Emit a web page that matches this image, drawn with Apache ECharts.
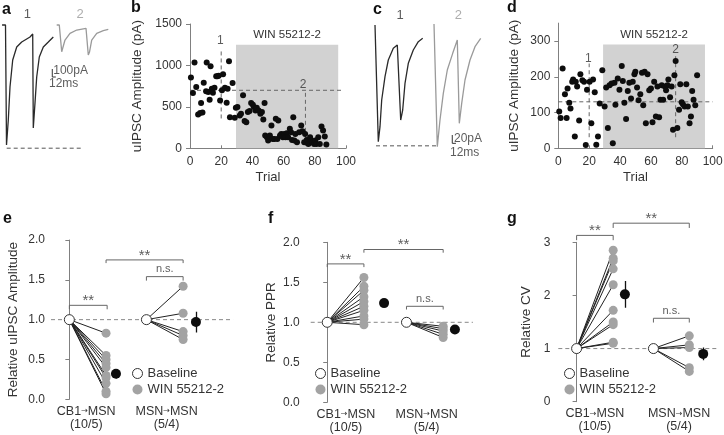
<!DOCTYPE html>
<html><head><meta charset="utf-8">
<script src="https://cdn.jsdelivr.net/npm/echarts@6/dist/echarts.min.js"></script>
<style>html,body{margin:0;padding:0;background:#fff}#c{width:724px;height:435px}</style>
</head><body><div id="c"></div>
<script>
// ---------- DATA ----------
// panel a traces (time ms, current pA)
const traceA1 = [[-10,0],[1.7,0],[5.1,-1500],[8.5,-1475],[11.2,-1188],[17,-775],[26.2,-438],[39.8,-275],[56.8,-213],[85,-150],[94.2,-113],[96.2,-1288],[102,-975],[107.8,-650],[116.6,-400],[130.2,-275],[147.2,-213],[164.2,-150]];
const traceA2 = [[175.8,0],[184.6,0],[192.8,-334],[197.2,-313],[204,-188],[221,-104],[243.8,-63],[275.4,-41],[279.8,-41],[283.2,-375],[287.3,-338],[294.8,-188],[311.8,-104],[334.2,-71],[351.2,-54]];
const peakA = -1540;
// panel c traces
const traceC1 = [[0,0],[3.3,0],[5.6,-4],[10.9,-280],[16.5,-244],[22.1,-180],[33,-124],[43.9,-84],[60.4,-56],[73.6,-48],[80.2,-52],[84.8,-228],[91.4,-204],[99,-140],[109.9,-92],[126.4,-60],[142.9,-40],[157.4,-32]];
const traceC2 = [[194.7,2.4],[201.3,2.4],[205.6,-292],[214.5,-228],[225.4,-164],[238.6,-108],[256.4,-68],[271.6,-36],[274.9,-34],[278.2,-236],[286.1,-188],[297,-132],[313.5,-84],[330,-52],[348.8,-32]];
const peakC = -290;
// panel b
const trialsB = [0.6,1.9,2.9,4,5.2,6.5,7.1,8,8.8,10.3,10.7,11.7,12.6,13.2,14,14.7,15.7,16.8,17.6,18.4,19.3,20.5,21.2,22.4,23.5,24.1,25,25.6,27.3,28.7,29.4,30.4,31.9,32.7,34,35,36.1,37.1,38.2,39.2,40.3,40.9,42,42.8,44,45.1,46.1,47,47.8,48.2,49.3,50.1,51.2,52.2,53,54.1,55,56,56.6,57.7,58.5,59.5,60.4,61.2,62,62.9,64,64.8,65.4,66.2,66.9,67.5,68.6,70,71.3,72.1,73.2,73.8,74.8,75.9,77,77.6,78.6,79.5,80.3,81,82.2,83.2,84.3,85.3,86.4,87.4];
const ampB = [853,667,1035,740,408,425,546,433,792,687,1035,679,586,991,720,671,732,869,869,877,578,700,894,732,550,720,1051,376,789,368,489,497,396,417,639,328,315,437,449,546,526,497,457,489,457,417,437,348,546,154,133,93,154,275,113,113,356,113,336,154,174,133,174,133,182,133,235,194,101,376,93,174,73,194,275,206,73,174,101,53,133,93,73,53,93,53,133,53,263,214,142,45];
const drugB = [29.5, 95, 1250];   // drug window start, end, shading height
const refB = {trial1: 20, trial2: 74, level: 700};
// panel d
const trialsD = [0.6,1.5,2.8,4.3,5.4,6,7.1,7.9,9,9.6,10.7,11.3,12.2,13.5,14.3,15.6,16.7,17.8,18.6,20.3,21.4,22.5,23.6,24.6,25.7,26.8,28.5,30,31,32.1,33.2,34.5,35.3,36.4,37,38.5,39.6,41.1,41.8,42.8,43.9,45,46,47.1,48.2,49.3,49.9,51,52,53.1,54.2,55,55.9,56.7,57.8,58.9,60,61,62.1,63.2,64.2,65.3,66.2,67,67.9,69,69.8,70.7,71.3,72.4,73.4,74.3,75.2,76,77.1,78.2,79,79.9,80.7,81.8,82.9,83.9,85,85.9,86.7,87.6,88.7,89.9];
const ampD = [103,85,223,151,85,167,127,111,186,192,33,186,173,78,207,190,186,9,164,186,70,192,157,10,33,125,218,117,170,57,176,181,14,183,122,195,164,230,188,127,82,160,183,139,186,207,214,170,134,151,211,120,214,70,207,162,167,73,186,89,173,87,136,176,136,173,162,176,192,143,173,52,204,244,57,108,179,129,123,117,179,117,70,89,160,136,120,204];
const drugD = [29, 95, 290];
const refD = {trial1: 20, trial2: 76, level: 130};
// panels e, f, g
const groups = ['CB1→MSN\n(10/5)', 'MSN→MSN\n(5/4)'];
const ampWinCB1 = [0.83,0.55,0.50,0.45,0.40,0.30,0.27,0.20,0.10,0.07];
const ampWinMSN = [1.42,1.08,0.85,0.80,0.75];
const ampMean = [0.32, 0.97], ampSem = [0.06, 0.13];
const pprWinCB1 = [1.56,1.45,1.40,1.32,1.26,1.20,1.15,1.08,1.04,0.97];
const pprWinMSN = [0.95,0.92,0.89,0.85,0.81];
const pprMean = [1.24, 0.91], pprSem = [0.03, 0.03];
const cvWinCB1 = [2.85,2.70,2.65,2.50,2.20,1.72,1.50,1.45,1.12,1.10];
const cvWinMSN = [1.24,1.07,1.02,0.64,0.57];
const cvMean = [2.02, 0.90], cvSem = [0.25, 0.12];

// ---------- STYLE ----------
const FONT = 'Liberation Sans, Arial, Helvetica, sans-serif';
const AX = '#808080', TX = '#333', DOT_GRAY = '#a3a3a3', SHADE = '#d2d2d2';

const chart = echarts.init(document.getElementById('c'), null, {renderer: 'canvas', width: 724, height: 435});

const grids = [
  {left: 0, top: 0, width: 130, height: 160},          // a
  {left: 190, top: 24, width: 156, height: 124.3},     // b
  {left: 360, top: 0, width: 130, height: 160},        // c
  {left: 558.3, top: 23.1, width: 154.4, height: 125.2}, // d
  {left: 51, top: 240, width: 183.5, height: 159.3},   // e
  {left: 310.7, top: 242.3, width: 163.3, height: 160},// f
  {left: 558.3, top: 242.3, width: 161, height: 159.4} // g
].map(g => Object.assign({containLabel: false, outerBoundsMode: 'none'}, g));

const xAxis = [], yAxis = [], series = [];

function hiddenAxes(gi, xr, yr) {
  xAxis.push({gridIndex: gi, type: 'value', min: xr[0], max: xr[1], show: false});
  yAxis.push({gridIndex: gi, type: 'value', min: yr[0], max: yr[1], show: false});
}
function lineS(gi, data, color, width, dashed, z) {
  series.push({type: 'line', xAxisIndex: gi, yAxisIndex: gi, data: data, symbol: 'none', silent: true, clip: false,
    lineStyle: {color: color, width: width, type: dashed ? [4, 3] : 'solid'}, z: z || 2});
}
function textS(gi, items) {
  series.push({type: 'scatter', xAxisIndex: gi, yAxisIndex: gi, symbolSize: 0, silent: true, clip: false, z: 10,
    data: items.map(it => ({value: it.at, label: {show: true, formatter: it.text, position: it.pos || 'inside', distance: it.dist == null ? 0 : it.dist,
      color: it.color || TX, fontSize: it.size || 12, fontFamily: FONT}}))});
}
const plain = v => String(v);

// ---- panel a ----
hiddenAxes(0, [-17, 425], [-1687.5, 312.5]);
lineS(0, traceA1, '#2a2a2a', 1.3);
lineS(0, traceA2, '#9a9a9a', 1.3);
lineS(0, [[5.8, peakA], [260.8, peakA]], '#555', 1, true);
lineS(0, [[160.8, -550], [160.8, -650], [172.8, -650]], '#333', 1);
textS(0, [{at: [75.8, 137], text: '1', size: 13}, {at: [255, 137], text: '2', size: 13, color: '#999'},
  {at: [164, -575], text: '100pA', pos: 'right', size: 12}, {at: [149.6, -729], text: '12ms', pos: 'right', size: 12}]);

// ---- panel b & d ----
function trialPanel(gi, trials, amps, ymax, yint, yticks, drug, ref, refSpan, labels, nameGap) {
  xAxis.push({gridIndex: gi, type: 'value', min: 0, max: 100, interval: 20,
    axisLine: {show: true, onZero: false, lineStyle: {color: AX}}, axisTick: {show: true, inside: true, length: 3, lineStyle: {color: AX}},
    splitLine: {show: false}, axisLabel: {fontSize: 12, color: TX, margin: 7, fontFamily: FONT, formatter: plain},
    name: 'Trial', nameLocation: 'middle', nameGap: 23, nameTextStyle: {fontSize: 13, color: TX, fontFamily: FONT}});
  yAxis.push({gridIndex: gi, type: 'value', min: 0, max: ymax, interval: yint,
    axisLine: {show: true, lineStyle: {color: AX}}, axisTick: {show: true, length: 4, lineStyle: {color: AX}, customValues: yticks},
    splitLine: {show: false}, axisLabel: {fontSize: 12, color: TX, margin: 8, fontFamily: FONT, customValues: yticks, formatter: plain},
    name: 'uIPSC Amplitude (pA)', nameLocation: 'middle', nameGap: nameGap, nameTextStyle: {fontSize: 13.5, color: TX, fontFamily: FONT}});
  series.push({type: 'scatter', xAxisIndex: gi, yAxisIndex: gi, symbolSize: 6, itemStyle: {color: '#0d0d0d', opacity: 1}, z: 5,
    data: trials.map((t, i) => [t, amps[i]]),
    markArea: {silent: true, itemStyle: {color: SHADE, opacity: 1}, z: 1,
      label: {show: true, position: 'top', distance: 4, formatter: 'WIN 55212-2', color: TX, fontSize: 11.5, fontFamily: FONT},
      data: [[{xAxis: drug[0], yAxis: 0}, {xAxis: drug[1], yAxis: drug[2]}]]}});
  lineS(gi, [[0, ref.level], [refSpan.hEnd, ref.level]], '#666', 1, true, 3);
  lineS(gi, [[ref.trial1, refSpan.v1[0]], [ref.trial1, refSpan.v1[1]]], '#666', 1, true, 3);
  lineS(gi, [[ref.trial2, refSpan.v2[0]], [ref.trial2, refSpan.v2[1]]], '#666', 1, true, 3);
  textS(gi, labels);
}
trialPanel(1, trialsB, ampB, 1500, 500, [0, 500, 1000, 1500], drugB, refB, {hEnd: 97, v1: [360, 1205], v2: [30, 700]},
  [{at: [19.5, 1298], text: '1', size: 12}, {at: [72.5, 770], text: '2', size: 12}], 46);

// ---- panel c ----
hiddenAxes(2, [-49.5, 379.5], [-324, 60]);
lineS(2, traceC1, '#2a2a2a', 1.3);
lineS(2, traceC2, '#9a9a9a', 1.3);
lineS(2, [[3.3, peakC], [204, peakC]], '#555', 1, true);
lineS(2, [[255, -264], [255, -284], [267, -284]], '#333', 1);
textS(2, [{at: [82.5, 24], text: '1', size: 13}, {at: [275, 24], text: '2', size: 13, color: '#999'},
  {at: [260.7, -273.6], text: '20pA', pos: 'right', size: 12}, {at: [247.5, -307], text: '12ms', pos: 'right', size: 12}]);

trialPanel(3, trialsD, ampD, 350, 100, [0, 100, 200, 300], drugD, refD, {hEnd: 100, v1: [31, 237], v2: [31, 265]},
  [{at: [19.5, 250], text: '1', size: 12}, {at: [76, 276], text: '2', size: 12}], 37);

// ---- panels e f g ----
function summaryPanel(gi, L, win1, win2, mean, sem) {
  xAxis.push({gridIndex: gi, type: 'value', min: L.xr[0], max: L.xr[1],
    axisLine: {show: false}, axisTick: {show: false}, splitLine: {show: false},
    axisLabel: {show: true, customValues: L.catX, fontSize: 12.5, lineHeight: 13.5, color: TX, margin: 5, fontFamily: FONT,
      rich: {ar: {fontSize: 8, lineHeight: 13.5, color: TX, fontFamily: 'DejaVu Sans'}},
      formatter: v => { let b = 0; L.catX.forEach((c, i) => { if (Math.abs(c - v) < Math.abs(L.catX[b] - v)) b = i; });
        return groups[b].replace('→', '{ar|→}'); }}});
  yAxis.push({gridIndex: gi, type: 'value', min: 0, max: L.ymax, interval: L.yint,
    axisLine: {show: true, lineStyle: {color: AX}}, axisTick: {show: true, length: 4, lineStyle: {color: AX}},
    splitLine: {show: false}, axisLabel: {fontSize: 12, color: TX, margin: L.lblMargin, fontFamily: FONT, formatter: L.fmt},
    name: L.name, nameLocation: 'middle', nameGap: L.nameGap, nameTextStyle: {fontSize: 13.5, color: TX, fontFamily: FONT}});
  // reference line at 1
  lineS(gi, [[L.xr[0], 1], [L.refEnd, 1]], '#888', 1, true, 1);
  // connecting lines
  const conn = [];
  win1.forEach(v => conn.push({coords: [[L.bx[0], 1], [L.wx[0], v]]}));
  win2.forEach(v => conn.push({coords: [[L.bx[1], 1], [L.wx[1], v]]}));
  series.push({type: 'lines', coordinateSystem: 'cartesian2d', xAxisIndex: gi, yAxisIndex: gi, silent: true, z: 2,
    lineStyle: {color: '#222', width: 1, opacity: 1}, data: conn});
  // WIN points
  series.push({type: 'scatter', name: 'WIN 55212-2', xAxisIndex: gi, yAxisIndex: gi, symbolSize: 9, z: 4,
    itemStyle: {color: DOT_GRAY, opacity: 1}, data: win1.map(v => [L.wx[0], v]).concat(win2.map(v => [L.wx[1], v]))});
  // baseline points
  series.push({type: 'scatter', name: 'Baseline', xAxisIndex: gi, yAxisIndex: gi, symbolSize: 10, z: 5,
    itemStyle: {color: '#fff', borderColor: '#333', borderWidth: 1, opacity: 1}, data: [[L.bx[0], 1], [L.bx[1], 1]]});
  // error bars
  series.push({type: 'lines', coordinateSystem: 'cartesian2d', xAxisIndex: gi, yAxisIndex: gi, silent: true, z: 5,
    lineStyle: {color: '#111', width: 1.3, opacity: 1},
    data: mean.map((m, i) => ({coords: [[L.mx[i], m - sem[i]], [L.mx[i], m + sem[i]]]}))});
  // means
  series.push({type: 'scatter', name: 'Mean', xAxisIndex: gi, yAxisIndex: gi, symbolSize: 10, z: 6,
    itemStyle: {color: '#0d0d0d', opacity: 1}, data: mean.map((m, i) => [L.mx[i], m])});
  // brackets
  series.push({type: 'lines', coordinateSystem: 'cartesian2d', polyline: true, xAxisIndex: gi, yAxisIndex: gi, silent: true, clip: false, z: 3,
    lineStyle: {color: '#666', width: 1, opacity: 1},
    data: L.br.map(b => ({coords: [[b[0], b[3]], [b[0], b[2]], [b[1], b[2]], [b[1], b[3]]]}))});
  textS(gi, L.br.map(b => ({at: [(b[0] + b[1]) / 2, b[2]], text: b[4], pos: 'top',
    dist: b[4] === 'n.s.' ? 2 : -3, size: b[4] === 'n.s.' ? 11 : 15, color: '#333'})));
}
const f1 = v => v.toFixed(1);
summaryPanel(4, {xr: [-0.5, 4.5], catX: [0.46, 2.65], bx: [0, 2.1], wx: [1, 3.1], mx: [1.27, 3.45], ymax: 2, yint: 0.5, fmt: f1,
  lblMargin: 6, name: 'Relative uIPSC Amplitude', nameGap: 31, refEnd: 4.46,
  br: [[0, 1.03, 1.18, 1.13, '**'], [1.0, 3.1, 1.75, 1.71, '**'], [2.1, 3.1, 1.54, 1.49, 'n.s.']]},
  ampWinCB1, ampWinMSN, ampMean, ampSem);
summaryPanel(5, {xr: [-0.45, 4.0], catX: [0.51, 2.71], bx: [0, 2.16], wx: [1, 3.16], mx: [1.55, 3.48], ymax: 2, yint: 0.5, fmt: f1,
  lblMargin: 11, name: 'Relative PPR', nameGap: 32, refEnd: 3.97,
  br: [[0, 1, 1.73, 1.69, '**'], [1, 3.16, 1.91, 1.87, '**'], [2.16, 3.16, 1.20, 1.16, 'n.s.']]},
  pprWinCB1, pprWinMSN, pprMean, pprSem);
summaryPanel(6, {xr: [-0.5, 3.9], catX: [0.5, 2.8], bx: [0, 2.1], wx: [1, 3.08], mx: [1.32, 3.46], ymax: 3, yint: 1, fmt: plain,
  lblMargin: 8, name: 'Relative CV', nameGap: 25, refEnd: 3.86,
  br: [[0, 1, 3.13, 3.04, '**'], [1, 3.08, 3.36, 3.27, '**'], [2.1, 3.08, 1.57, 1.49, 'n.s.']]},
  cvWinCB1, cvWinMSN, cvMean, cvSem);

function legendAt(left) {
  return {data: ['Baseline', 'WIN 55212-2'], left: left, top: 367, orient: 'vertical', itemWidth: 10, itemHeight: 10, itemGap: 3,
    icon: 'circle', selectedMode: false, padding: 0, itemStyle: {borderWidth: 1},
    textStyle: {fontSize: 13, color: TX, fontFamily: FONT}};
}

const letterPos = [['a', 2, 10], ['b', 131, 8], ['c', 373, 10], ['d', 507, 8], ['e', 3, 219], ['f', 268, 218.5], ['g', 507, 219]];

chart.setOption({
  animation: false,
  backgroundColor: '#fff',
  textStyle: {fontFamily: FONT},
  grid: grids, xAxis: xAxis, yAxis: yAxis, series: series,
  legend: [legendAt(132), legendAt(315), legendAt(564)],
  graphic: letterPos.map(l => ({type: 'text', x: l[1], y: l[2], silent: true,
    style: {text: l[0], font: 'bold 16px ' + FONT, fill: '#111', verticalAlign: 'middle', align: 'left'}}))
});
</script>
</body></html>
